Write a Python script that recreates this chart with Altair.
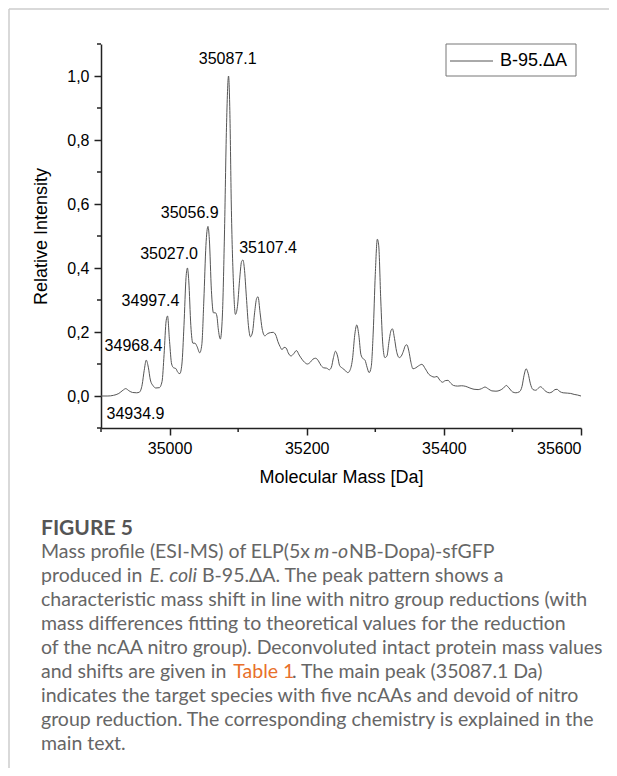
import altair as alt
import pandas as pd

# ---------------- data ----------------
mass = [34900, 34910, 34918, 34926, 34932, 34936, 34941, 34946, 34952, 34956,
        34960, 34963, 34966, 34969, 34972, 34976, 34980, 34985, 34989, 34992,
        34995, 34997, 35000, 35003, 35006, 35009, 35012, 35015, 35018, 35021,
        35024, 35026, 35028, 35031, 35034, 35037, 35040, 35044, 35047, 35050,
        35053, 35056, 35058, 35061, 35064, 35067, 35069, 35071, 35074, 35077,
        35080, 35083, 35086, 35088, 35090, 35093, 35096, 35099, 35102, 35105,
        35107, 35109, 35112, 35115, 35118, 35121, 35124, 35127, 35129, 35132,
        35135, 35139, 35143, 35147, 35151, 35155, 35158, 35161, 35164, 35167,
        35170, 35173, 35177, 35181, 35185, 35189, 35193, 35197, 35201, 35205,
        35209, 35213, 35217, 35221, 35225, 35229, 35233, 35236, 35239, 35242,
        35245, 35248, 35252, 35256, 35260, 35263, 35267, 35270, 35273, 35276,
        35279, 35282, 35285, 35288, 35291, 35294, 35297, 35300, 35303, 35305,
        35308, 35311, 35314, 35317, 35320, 35323, 35325, 35328, 35331, 35335,
        35338, 35341, 35344, 35346, 35349, 35352, 35355, 35359, 35363, 35368,
        35373, 35378, 35382, 35386, 35390, 35394, 35398, 35402, 35406, 35410,
        35414, 35420, 35426, 35432, 35438, 35444, 35450, 35455, 35460, 35465,
        35470, 35476, 35482, 35487, 35491, 35495, 35500, 35505, 35510, 35514,
        35517, 35520, 35523, 35526, 35530, 35534, 35538, 35541, 35545, 35549,
        35554, 35558, 35562, 35565, 35569, 35574, 35580, 35585, 35590, 35595,
        35600]
intensity = [0.0, 0.0, 0.002, 0.008, 0.018, 0.023, 0.016, 0.011, 0.010, 0.012,
             0.035, 0.08, 0.112, 0.09, 0.05, 0.032, 0.025, 0.026, 0.045, 0.13,
             0.235, 0.25, 0.17, 0.10, 0.088, 0.086, 0.074, 0.07, 0.10, 0.22,
             0.37, 0.40, 0.36, 0.22, 0.165, 0.165, 0.155, 0.135, 0.16, 0.30,
             0.47, 0.53, 0.49, 0.33, 0.26, 0.26, 0.25, 0.21, 0.178, 0.25,
             0.50, 0.84, 1.0, 0.88, 0.60, 0.36, 0.255, 0.28, 0.36, 0.42,
             0.425, 0.40, 0.31, 0.22, 0.185, 0.20, 0.26, 0.305, 0.31, 0.26,
             0.21, 0.188, 0.195, 0.198, 0.199, 0.19, 0.17, 0.155, 0.145, 0.152,
             0.15, 0.135, 0.125, 0.132, 0.142, 0.128, 0.115, 0.105, 0.100, 0.105,
             0.115, 0.118, 0.11, 0.095, 0.088, 0.087, 0.082, 0.09, 0.12, 0.14,
             0.125, 0.095, 0.087, 0.08, 0.073, 0.08, 0.12, 0.19, 0.222, 0.19,
             0.13, 0.117, 0.112, 0.09, 0.073, 0.09, 0.20, 0.38, 0.49, 0.47,
             0.30, 0.16, 0.12, 0.125, 0.17, 0.205, 0.21, 0.18, 0.14, 0.12,
             0.125, 0.14, 0.158, 0.16, 0.14, 0.105, 0.085, 0.088, 0.094, 0.099,
             0.085, 0.068, 0.062, 0.059, 0.061, 0.05, 0.043, 0.048, 0.049, 0.04,
             0.033, 0.031, 0.032, 0.030, 0.025, 0.021, 0.02, 0.023, 0.028, 0.022,
             0.016, 0.015, 0.018, 0.025, 0.033, 0.025, 0.013, 0.01, 0.013, 0.03,
             0.065, 0.085, 0.07, 0.04, 0.02, 0.018, 0.025, 0.029, 0.022, 0.014,
             0.01, 0.013, 0.02, 0.021, 0.014, 0.01, 0.009, 0.008, 0.005, 0.003,
             0.0]

peak_labels = ["35087.1", "35056.9", "35027.0", "35107.4", "34997.4", "34968.4", "34934.9"]
label_mass = [35084.8, 35029.4, 34999.3, 35143.7, 34972.2, 34947.4, 34950.3]
label_int = [1.054, 0.573, 0.445, 0.464, 0.297, 0.156, -0.055]

series_name = ["B-95.\u0394A"]

x_major = [35000, 35200, 35400, 35600]
x_minor = [34900, 35100, 35300, 35500]
y_major = [0.0, 0.2, 0.4, 0.6, 0.8, 1.0]
y_minor = [-0.1, 0.1, 0.3, 0.5, 0.7, 0.9, 1.1]

# ---------------- layout ----------------
W, H = 480, 384
PX0, PY0 = 101, 44  # page position of plot origin
FONT = "Liberation Sans"

xs = alt.Scale(domain=[34900, 35600], nice=False, zero=False)
ys = alt.Scale(domain=[-0.1, 1.1], nice=False, zero=False)
XT = "Molecular Mass [Da]"
YT = "Relative Intensity"

df = pd.DataFrame({"mass": mass, "intensity": intensity})

line = alt.Chart(df).mark_line(color="#555555", strokeWidth=1, interpolate="monotone").encode(
    x=alt.X("mass:Q", scale=xs, title=XT,
            axis=alt.Axis(values=x_major, format="d", labelFontSize=16, labelFont=FONT,
                          labelColor="#000", titleFontSize=18, titleFont=FONT,
                          titleFontWeight="normal", titleColor="#000", tickSize=7,
                          tickWidth=1.5, tickColor="#222", domainColor="#222",
                          domainWidth=1.5, labelPadding=5, titlePadding=12, grid=False)),
    y=alt.Y("intensity:Q", scale=ys, title=YT,
            axis=alt.Axis(values=y_major,
                          labelExpr="replace(format(datum.value, '.1f'), '.', ',')",
                          labelFontSize=16, labelFont=FONT, labelColor="#000",
                          titleFontSize=18, titleFont=FONT, titleFontWeight="normal",
                          titleColor="#000", tickSize=7, tickWidth=1.5, tickColor="#222",
                          domainColor="#222", domainWidth=1.5, labelPadding=5,
                          titlePadding=16, grid=False)),
)

lab_df = pd.DataFrame({"mass": label_mass, "intensity": label_int, "label": peak_labels})
labels = alt.Chart(lab_df).mark_text(font=FONT, fontSize=16, color="#000",
                                      align="center", baseline="middle").encode(
    x=alt.X("mass:Q", scale=xs, title=XT),
    y=alt.Y("intensity:Q", scale=ys, title=YT),
    text="label:N",
)

xminor = alt.Chart(pd.DataFrame({"mass": x_minor})).mark_rule(color="#222", strokeWidth=1.5).encode(
    x=alt.X("mass:Q", scale=xs, title=XT), y=alt.value(H), y2=alt.value(H + 4))
yminor = alt.Chart(pd.DataFrame({"intensity": y_minor})).mark_rule(color="#222", strokeWidth=1.5).encode(
    y=alt.Y("intensity:Q", scale=ys, title=YT), x=alt.value(0), x2=alt.value(-4))

# legend box
leg_df = pd.DataFrame({"series": series_name})
leg_box = alt.Chart(leg_df).mark_rect(fill="white", stroke="#777", strokeWidth=1).encode(
    x=alt.value(446 - PX0), x2=alt.value(576 - PX0), y=alt.value(44 - PY0), y2=alt.value(76 - PY0))
leg_line = alt.Chart(leg_df).mark_rule(color="#555555", strokeWidth=1).encode(
    x=alt.value(450 - PX0), x2=alt.value(493 - PX0), y=alt.value(61 - PY0))
leg_text = alt.Chart(leg_df).mark_text(font=FONT, fontSize=18, color="#000", align="left",
                                        baseline="middle").encode(
    x=alt.value(500 - PX0), y=alt.value(61 - PY0), text="series:N")

# figure frame (top and left border of the figure box)
frame_top = alt.Chart(leg_df).mark_rule(color="#cccccc", strokeWidth=1.5).encode(
    x=alt.value(9 - PX0), x2=alt.value(640 - PX0), y=alt.value(9 - PY0))
frame_left = alt.Chart(leg_df).mark_rule(color="#cccccc", strokeWidth=1.5).encode(
    x=alt.value(9 - PX0), y=alt.value(9 - PY0), y2=alt.value(800 - PY0))

# caption
CAP_FONT = "Lato"
CAP_SIZE = 19.5
CAP_COL = "#666666"


def seg(text, xp, yp, italic=False, bold=False, color=CAP_COL, size=CAP_SIZE):
    kw = dict(font=CAP_FONT, fontSize=size, color=color, align="left", baseline="middle")
    if italic:
        kw["fontStyle"] = "italic"
    if bold:
        kw["fontWeight"] = "bold"
    return alt.Chart(pd.DataFrame({"t": [text]})).mark_text(**kw).encode(
        x=alt.value(xp - PX0), y=alt.value(yp - PY0), text="t:N")


L = 41
caption = [
    seg("FIGURE 5", L, 529, bold=True, color="#555555", size=21),
    seg("Mass profile (ESI-MS) of ELP(5x", L, 552),
    seg("m", 314, 552, italic=True),
    seg("-", 331, 552),
    seg("o", 338, 552, italic=True),
    seg("NB-Dopa)-sfGFP", 349, 552),
    seg("produced in ", L, 576),
    seg("E. coli", 149.6, 576, italic=True),
    seg(" B-95.\u0394A. The peak pattern shows a", 202, 576),
    seg("characteristic mass shift in line with nitro group reductions (with", L, 600),
    seg("mass differences fitting to theoretical values for the reduction", L, 624),
    seg("of the ncAA nitro group). Deconvoluted intact protein mass values", L, 648),
    seg("and shifts are given in ", L, 672),
    seg("Table 1", 233.3, 672, color="#E8702A"),
    seg(". The main peak (35087.1 Da)", 292, 672),
    seg("indicates the target species with five ncAAs and devoid of nitro", L, 696),
    seg("group reduction. The corresponding chemistry is explained in the", L, 720),
    seg("main text.", L, 744),
]

chart = alt.layer(
    frame_top, frame_left, line, xminor, yminor, labels, leg_box, leg_line, leg_text, *caption
).properties(
    width=W, height=H,
    autosize=alt.AutoSizeParams(type="none"),
    padding={"left": PX0 - 8, "top": PY0 - 8, "right": 601 - (PX0 - 8) - W,
             "bottom": 760 - (PY0 - 8) - H},
).configure_view(stroke=None).configure_axis(grid=False)

chart.save("out.html", embed_options={"renderer": "svg", "actions": False})
